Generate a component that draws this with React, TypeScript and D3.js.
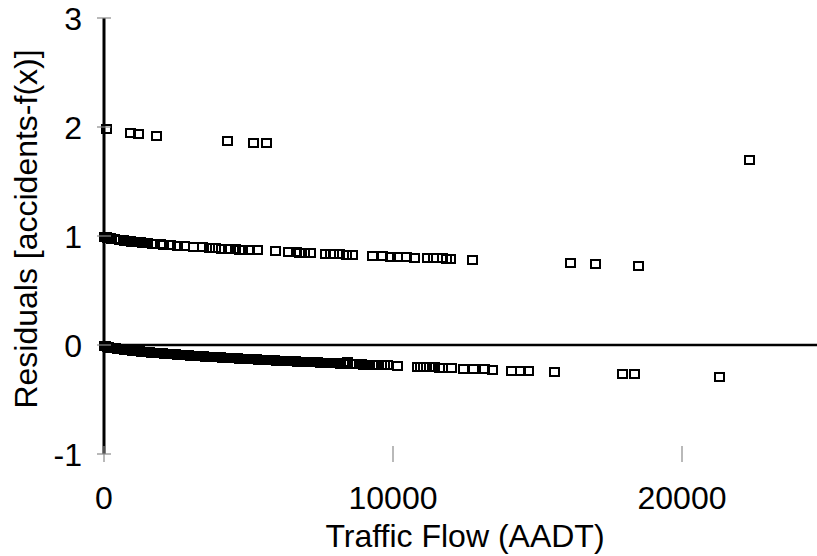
import React from 'react';
import * as d3 from 'd3';

// axis ticks
const yTicks = [-1, 0, 1, 2, 3];
const xTicks = [0, 10000, 20000];

// residuals of segments with 0 accidents [AADT, residual]
const zeroAccidents: [number, number][] = [
  [0, -0.008], [50, -0.01], [110, -0.015], [170, -0.019], [230, -0.023], [290, -0.026],
  [350, -0.029], [410, -0.032], [470, -0.034], [530, -0.036], [600, -0.039], [660, -0.041],
  [720, -0.043], [790, -0.046], [850, -0.048], [910, -0.05], [980, -0.052], [1040, -0.053],
  [1110, -0.055], [1170, -0.057], [1240, -0.059], [1300, -0.06], [1370, -0.062], [1430, -0.064],
  [1500, -0.066], [1560, -0.067], [1630, -0.069], [1690, -0.07], [1760, -0.072], [1820, -0.073],
  [1890, -0.075], [1950, -0.076], [2020, -0.077], [2080, -0.079], [2150, -0.08], [2210, -0.082],
  [2280, -0.083], [2340, -0.084], [2410, -0.086], [2470, -0.087], [2540, -0.088], [2600, -0.089],
  [2670, -0.091], [2730, -0.092], [2800, -0.093], [2860, -0.094], [2930, -0.095], [2990, -0.097],
  [3060, -0.098], [3120, -0.099], [3190, -0.1], [3250, -0.101], [3320, -0.102], [3380, -0.104],
  [3450, -0.105], [3510, -0.106], [3580, -0.107], [3640, -0.108], [3710, -0.109], [3770, -0.11],
  [3840, -0.111], [3900, -0.112], [3970, -0.113], [4030, -0.114], [4100, -0.115], [4160, -0.116],
  [4230, -0.117], [4290, -0.118], [4360, -0.119], [4420, -0.12], [4490, -0.121], [4550, -0.122],
  [4620, -0.123], [4680, -0.124], [4750, -0.125], [4810, -0.126], [4880, -0.127], [4940, -0.128],
  [5010, -0.129], [5070, -0.13], [5140, -0.131], [5200, -0.132], [5270, -0.133], [5330, -0.134],
  [5400, -0.135], [5460, -0.135], [5530, -0.136], [5590, -0.137], [5720, -0.139], [5780, -0.14],
  [5850, -0.141], [5910, -0.142], [5980, -0.143], [6040, -0.143], [6110, -0.144], [6170, -0.145],
  [6240, -0.146], [6300, -0.147], [6370, -0.148], [6430, -0.148], [6500, -0.149], [6560, -0.15],
  [6630, -0.151], [6690, -0.152], [6760, -0.152], [6820, -0.153], [6890, -0.154], [6950, -0.155],
  [7020, -0.156], [7080, -0.157], [7150, -0.157], [7210, -0.158], [7280, -0.159], [7340, -0.16],
  [7400, -0.16], [7480, -0.161], [7550, -0.162], [7620, -0.163], [7700, -0.164], [7780, -0.165],
  [7870, -0.166], [7950, -0.167], [8030, -0.168], [8100, -0.169], [8200, -0.17], [8300, -0.171],
  [8440, -0.158], [8600, -0.175], [8680, -0.175], [8750, -0.176], [8830, -0.177], [8900, -0.178],
  [8980, -0.179], [9050, -0.18], [9130, -0.18], [9200, -0.181], [9280, -0.182], [9350, -0.183],
  [9430, -0.184], [9500, -0.185], [9600, -0.186], [9700, -0.187], [9800, -0.188], [10150, -0.192],
  [10850, -0.199], [10950, -0.2], [11050, -0.201], [11150, -0.202], [11250, -0.203], [11350, -0.204],
  [11450, -0.205], [11600, -0.207], [11720, -0.208], [12020, -0.211], [12450, -0.218], [12800, -0.221],
  [13150, -0.224], [13450, -0.227], [14100, -0.235], [14400, -0.238], [14700, -0.241], [15600, -0.248],
  [17950, -0.265], [18350, -0.268], [21300, -0.292],
];

// residuals of segments with 1 accident
const oneAccident: [number, number][] = [
  [0, 0.992], [40, 0.99], [80, 0.987], [120, 0.985], [170, 0.981], [220, 0.978], [270, 0.974],
  [380, 0.969], [520, 0.964], [660, 0.959], [720, 0.957], [780, 0.955], [840, 0.952], [900, 0.95],
  [960, 0.949], [1020, 0.947], [1080, 0.946], [1140, 0.944], [1200, 0.942], [1260, 0.941],
  [1320, 0.939], [1380, 0.938], [1440, 0.936], [1490, 0.935], [1680, 0.931], [1950, 0.924],
  [2050, 0.922], [2300, 0.917], [2550, 0.912], [2800, 0.907], [3100, 0.902], [3400, 0.896],
  [3650, 0.892], [3750, 0.89], [3850, 0.888], [4050, 0.885], [4300, 0.881], [4550, 0.878],
  [4700, 0.876], [4800, 0.874], [5050, 0.871], [5300, 0.867], [5950, 0.858], [6400, 0.852],
  [6650, 0.849], [6750, 0.847], [6950, 0.845], [7150, 0.842], [7650, 0.837], [7850, 0.834],
  [7950, 0.833], [8150, 0.831], [8400, 0.827], [8600, 0.825], [9300, 0.818], [9650, 0.814],
  [9900, 0.811], [10150, 0.808], [10450, 0.805], [10750, 0.802], [11200, 0.798], [11400, 0.796],
  [11700, 0.794], [11850, 0.792], [12000, 0.79], [12750, 0.779], [16150, 0.748], [17000, 0.74],
  [18500, 0.728],
];

// residuals of segments with 2 accidents
const twoAccidents: [number, number][] = [
  [100, 1.98], [930, 1.945], [1210, 1.936], [1800, 1.917], [4290, 1.87], [5190, 1.853],
  [5640, 1.853], [22350, 1.7],
];

const W = 817;
const H = 556;
const FONT = "Arial, 'Liberation Sans', sans-serif";

const x = d3.scaleLinear().domain([0, 25000]).range([104, 826.5]);
const y = d3.scaleLinear().domain([-1, 3]).range([454, 18]);

const MW = 9;
const MH = 8;

// fills first, outlines on top, so crowded markers merge into a dark band
const Markers = ({ data }: { data: [number, number][] }) => {
  const boxes = data.map(d => ({
    x: Math.round(x(d[0]) - MW / 2),
    y: Math.round(y(d[1]) - MH / 2),
  }));
  return (
    <g shapeRendering="crispEdges">
      {boxes.map((b, i) => (
        <rect key={'f' + i} x={b.x} y={b.y} width={MW} height={MH} fill="#fff" />
      ))}
      {boxes.map((b, i) => (
        <rect key={'s' + i} x={b.x} y={b.y} width={MW} height={MH} fill="none" stroke="#000" strokeWidth={2} />
      ))}
    </g>
  );
};

export default function App() {
  const x0 = x(0);
  const yBottom = y(-1);
  return (
    <svg
      width={W}
      height={H}
      style={{ position: 'absolute', left: 0, top: 0, background: '#fff' }}
      fontFamily={FONT}
    >
      {/* zero line */}
      <line x1={x0} x2={x(25000)} y1={y(0)} y2={y(0)} stroke="#000" strokeWidth={2.5} />

      <Markers data={zeroAccidents} />
      <Markers data={oneAccident} />
      <Markers data={twoAccidents} />

      {/* y axis */}
      <line x1={x0} x2={x0} y1={y(3)} y2={yBottom} stroke="#000" strokeWidth={3} />
      {yTicks.map(t => (
        <g key={t}>
          <line x1={x0 - 7} x2={x0 + 7} y1={y(t)} y2={y(t)} stroke="#8a8a8a" strokeWidth={1.2} />
          <text x={82} y={y(t)} dy="0.36em" textAnchor="end" fontSize={32} fill="#000">
            {t}
          </text>
        </g>
      ))}

      {/* x axis ticks sit at the bottom of the plot */}
      {xTicks.map(t => (
        <g key={t}>
          <line x1={x(t)} x2={x(t)} y1={yBottom - 8} y2={yBottom + 8} stroke="#8a8a8a" strokeWidth={1.2} />
          <text x={x(t)} y={509} textAnchor="middle" fontSize={32} fill="#000">
            {t}
          </text>
        </g>
      ))}

      <text x={465} y={547} textAnchor="middle" fontSize={32} fill="#000">
        Traffic Flow (AADT)
      </text>
      <text
        transform={`translate(37, 229) rotate(-90)`}
        textAnchor="middle"
        fontSize={32}
        fill="#000"
      >
        Residuals [accidents-f(x)]
      </text>
    </svg>
  );
}
